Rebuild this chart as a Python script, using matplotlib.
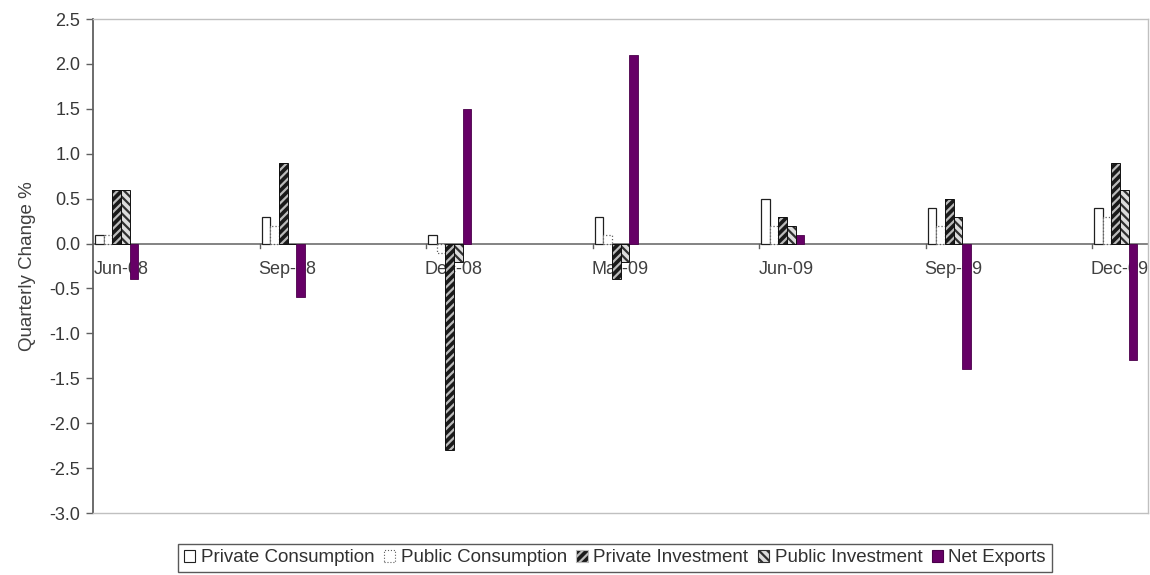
import numpy as np
import matplotlib
matplotlib.use("Agg")
import matplotlib.pyplot as plt
from matplotlib.patches import Patch

plt.rcParams["font.family"] = ["Liberation Sans", "DejaVu Sans"]
plt.rcParams["hatch.linewidth"] = 1.6

quarters = ["Jun-08", "Sep-08", "Dec-08", "Mar-09", "Jun-09", "Sep-09", "Dec-09"]
# month offset of each quarter on the date axis (months since Jun-08)
months = [0, 3, 6, 9, 12, 15, 18]

private_consumption = [0.1, 0.3, 0.1, 0.3, 0.5, 0.4, 0.4]
public_consumption = [0.1, 0.2, -0.1, 0.1, 0.2, 0.2, 0.3]
private_investment = [0.6, 0.9, -2.3, -0.4, 0.3, 0.5, 0.9]
public_investment = [0.6, 0.0, -0.2, -0.2, 0.2, 0.3, 0.6]
net_exports = [-0.4, -0.6, 1.5, 2.1, 0.1, -1.4, -1.3]

series = [
    ("Private Consumption", private_consumption,
     dict(facecolor="white", edgecolor="#202020", linewidth=0.9)),
    ("Public Consumption", public_consumption,
     dict(facecolor="white", edgecolor="#606060", linewidth=0.9, linestyle=":")),
    ("Private Investment", private_investment,
     dict(facecolor="#1a1a1a", edgecolor="#bbbbbb", hatch="////", linewidth=0)),
    ("Public Investment", public_investment,
     dict(facecolor="#dddddd", edgecolor="#303030", hatch="\\\\\\\\", linewidth=0)),
    ("Net Exports", net_exports,
     dict(facecolor="#660066", edgecolor="#4a004a", linewidth=0.6)),
]

fig = plt.figure(figsize=(11.5, 5.75), dpi=100)
ax = fig.add_axes([93 / 1150, 1 - 513 / 575, (1147.5 - 93) / 1150, (513 - 19) / 575])

x = np.array(months, dtype=float)
width = 0.155
start = -0.5 + 0.04
for i, (name, vals, style) in enumerate(series):
    pos = x + start + width * (i + 0.5)
    ax.bar(pos, vals, width=width, zorder=3, **style)
    if style.get("hatch"):
        # outline the hatched bars in black
        ax.bar(pos, vals, width=width, fill=False, edgecolor="#101010",
               linewidth=0.7, zorder=4)

ax.axhline(0, color="#7a7a7a", linewidth=1.3, zorder=2)

# quarter labels sit just under the zero line, behind the bars
for m, q in zip(months, quarters):
    ax.text(m, -0.29, q, ha="center", va="center", fontsize=13,
            color="#404040", zorder=1)

# small category-boundary ticks hanging off the zero line
for b in np.array(months[1:]) - 0.5:
    ax.plot([b, b], [0, -0.05], color="#606060", linewidth=1, zorder=2)

ax.set_xlim(-0.5, 18.5)
ax.set_ylim(-3.0, 2.5)
ax.set_xticks([])
ax.set_yticks(np.arange(-3.0, 2.51, 0.5))
ax.set_yticklabels([f"{v:.1f}" for v in np.arange(-3.0, 2.51, 0.5)])
ax.tick_params(axis="y", direction="out", length=5, width=1, color="#606060",
               labelsize=13, labelcolor="#383838", pad=4)
ax.set_ylabel("Quarterly Change %", fontsize=13.5, color="#404040", labelpad=10)

for side in ["top", "right", "bottom"]:
    ax.spines[side].set_color("#c0c0c0")
    ax.spines[side].set_linewidth(1)
ax.spines["left"].set_color("#606060")
ax.spines["left"].set_linewidth(1.3)

handles = [Patch(label=name, **{k: v for k, v in style.items() if k != "linewidth"},
                 linewidth=0.8)
           for name, _, style in series]
leg = fig.legend(handles=handles, loc="center", bbox_to_anchor=(615 / 1150, 1 - 558 / 575),
                 ncol=5, fontsize=13.5, frameon=True, fancybox=False,
                 handlelength=0.6, handleheight=0.6, handletextpad=0.3,
                 columnspacing=0.5, borderpad=0.3, borderaxespad=0)
leg.get_frame().set_edgecolor("#303030")
leg.get_frame().set_linewidth(1)
for t in leg.get_texts():
    t.set_color("#303030")

fig.savefig("out.png", dpi=100)
